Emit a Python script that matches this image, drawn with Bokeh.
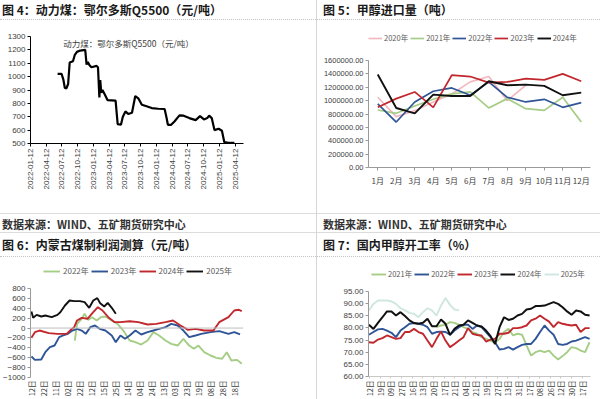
import math
import pandas as pd
from bokeh.plotting import figure
from bokeh.layouts import row, column
from bokeh.models import (Div, Label, Legend, LegendItem, FixedTicker, Span,
                          NumeralTickFormatter, DatetimeTickFormatter, Range1d)
from bokeh.embed import file_html
from bokeh.resources import INLINE

NAN = float("nan")

# ---------------- data: 图4 动力煤 鄂尔多斯Q5500 ----------------
coal_dates = ["2022-06-18", "2022-07-11", "2022-07-21", "2022-07-30", "2022-08-08", "2022-08-18",
              "2022-08-27", "2022-09-15", "2022-09-25", "2022-10-08", "2022-10-27", "2022-11-25",
              "2022-12-03", "2022-12-10", "2022-12-20", "2022-12-31", "2023-01-30", "2023-02-07",
              "2023-02-15", "2023-02-20", "2023-02-26", "2023-03-05", "2023-03-17", "2023-04-03",
              "2023-05-20", "2023-06-01", "2023-06-20", "2023-07-01", "2023-07-16", "2023-08-01",
              "2023-08-23", "2023-09-11", "2023-09-30", "2023-10-19", "2023-11-11", "2023-12-15",
              "2024-01-22", "2024-02-28", "2024-03-09", "2024-03-18", "2024-04-06", "2024-04-25",
              "2024-05-24", "2024-06-17", "2024-07-20", "2024-08-26", "2024-09-20", "2024-10-13",
              "2024-11-01", "2024-11-12", "2024-11-27", "2024-12-13", "2025-01-06", "2025-01-25",
              "2025-02-08", "2025-03-04", "2025-04-07"]
coal_price = [1020, 1020, 980, 915, 912, 945, 1105, 1115, 1160, 1185,
              1195, 1200, 1090, 1110, 1085, 1070, 1080, 1070, 845, 975,
              880, 900, 870, 825, 820, 645, 640, 700, 740, 720,
              730, 855, 835, 790, 780, 765, 760, 758, 700, 640,
              640, 665, 710, 708, 690, 675, 705, 680, 690, 708,
              690, 600, 610, 595, 510, 505, 505]
coal_ticks = ["2022-01-12", "2022-04-12", "2022-07-12", "2022-10-12", "2023-01-12", "2023-04-12",
              "2023-07-12", "2023-10-12", "2024-01-12", "2024-04-12", "2024-07-12", "2024-10-12",
              "2025-01-12", "2025-04-12"]
coal_yticks = [500, 600, 700, 800, 900, 1000, 1100, 1200, 1300]
coal_series_name = "动力煤：鄂尔多斯Q5500（元/吨）"

# ---------------- data: 图5 甲醇进口量 ----------------
months = ["1月", "2月", "3月", "4月", "5月", "6月", "7月", "8月", "9月", "10月", "11月", "12月"]
imp_2020 = [1050000, 760000, 850000, 980000, 1100000, 1280000, 1360000, 1000000, 1230000, NAN, NAN, NAN]
imp_2021 = [860000, 810000, 920000, 1020000, 1100000, 1130000, 890000, 1030000, 880000, 855000, 1050000, 680000]
imp_2022 = [950000, 680000, 980000, 1140000, 1190000, 1080000, 1280000, 1050000, 980000, 1020000, 900000, 970000]
imp_2023 = [900000, 1030000, 1130000, 900000, 1380000, 1360000, 1270000, 1280000, 1330000, 1310000, 1400000, 1290000]
imp_2024 = [1390000, 890000, 810000, 1090000, 1070000, 1070000, 1290000, 1230000, 1240000, 1220000, 1080000, 1120000]
imp_yticks = [0, 200000, 400000, 600000, 800000, 1000000, 1200000, 1400000, 1600000]

# ---------------- data: 图6 内蒙古煤制利润测算 (day of year) ----------------
pf22_x = [75, 79, 87, 92, 98, 105, 113, 120, 128, 139, 149, 159, 170, 180, 190, 201, 211, 221, 232, 242,
          253, 263, 273, 281, 289, 299, 310, 320, 330, 338, 346, 356, 364]
pf22_y = [-252, 85, 187, 288, 166, 220, 153, 220, 234, 153, 85, -50, -252, -285, -333, -252, -83, -150, -252, -319,
          -353, -218, -353, -420, -353, -488, -555, -602, -622, -488, -656, -643, -723]
pf23_x = [0, 6, 17, 24, 32, 40, 48, 55, 63, 71, 79, 87, 94, 102, 110, 118, 128, 139, 146, 154,
          162, 170, 180, 190, 201, 211, 221, 232, 242, 253, 263, 273, 284, 294, 310, 325, 341, 351, 361]
pf23_y = [-575, -643, -636, -488, -387, -353, -184, -150, -117, -50, -16, -50, -117, 18, 52, -16, -50, -150, -285, -150,
          -218, -150, -50, -130, -83, -50, -16, 18, 85, 52, -50, -184, -150, -117, -83, -63, -117, -83, -130]
pf24_x = [0, 6, 14, 30, 45, 61, 68, 74, 79, 87, 97, 107, 115, 123, 133, 144, 154, 170, 185, 201,
          216, 232, 245, 258, 271, 284, 299, 315, 325, 341, 351, 359, 364]
pf24_y = [-198, -83, -50, -103, -117, -117, -36, 18, 153, 207, 187, 321, 422, 355, 220, 119, 119, 139, 119, 72,
          85, 119, 153, 52, -36, -16, -50, -50, 119, 220, 355, 369, 342]
pf25_x = [0, 3, 9, 17, 24, 35, 45, 50, 58, 66, 74, 84, 92, 100, 107, 114, 119, 126, 132, 139, 146]
pf25_y = [335, 207, 267, 234, 254, 220, 267, 321, 456, 557, 544, 544, 524, 409, 557, 605, 503, 436, 510, 409, 288]
pf_yticks = [-1000, -800, -600, -400, -200, 0, 200, 400, 600, 800]
pf_xlabels = ["12日", "22日", "11日", "02日", "22日", "12日", "15日", "25日", "14日",
              "04日", "24日", "13日", "03日", "23日", "19日", "08日", "28日", "18日"]
pf_zero = 0

# ---------------- data: 图7 国内甲醇开工率 (weekly) ----------------
op_2021 = [NAN] * 15 + [80.3, 81.0, 81.3, 82.4, 82.1, 81.3, 80.3, 79.6, 78.3, 77.6,
                        76.2, 75.5, 74.8, 73.9, 75.5, 78.3, 79.6, 76.9, 77.6, 77.2,
                        72.8, 68.6, 70.0, 70.7, 70.0, 70.7, 68.6, 67.0, 68.4, 70.0,
                        72.1, 71.7, 70.7, 70.0, 74.1]
op_2022 = [77.2, 78.3, 79.4, 79.6, 78.9, 78.0, 76.2, 78.9, 80.3, 81.7,
           82.0, 81.7, 81.3, 80.3, 77.6, 78.3, 78.5, 78.3, 77.2, 78.9,
           80.3, 81.3, 81.3, 79.6, 81.0, 80.3, 78.3, 76.2, 74.1, 71.1,
           71.4, 72.1, 71.1, 72.1, 73.0, 73.4, 73.4, 75.5, 78.3, 81.0,
           78.9, 77.2, 73.4, 73.0, 73.4, 74.4, 74.8, 75.5, 76.2, 75.5]
op_2023 = [74.1, 73.9, 75.2, 75.8, 76.9, 76.2, 75.5, 75.8, 78.3, 78.3,
           79.6, 78.3, 77.6, 74.8, 72.1, 75.5, 78.5, 74.8, 72.1, 73.4,
           74.8, 76.2, 79.9, 77.6, 77.1, 76.9, 74.4, 75.2, 75.5, 77.6,
           77.6, 78.0, 79.9, 79.9, 80.3, 81.0, 83.1, 83.8, 85.1, 83.8,
           82.6, 80.3, 82.4, 81.7, 81.3, 81.0, 81.3, 78.3, 79.9, 79.9]
op_2024 = [81.3, 79.6, 82.1, 84.4, 86.8, 86.8, 85.1, 86.5, 84.9, 83.1,
           82.0, 81.7, 82.1, 83.8, 80.7, 80.7, 83.5, 81.7, 77.1, 79.6,
           81.0, 81.3, 83.1, 82.1, 81.0, 80.6, 78.9, 76.6, 73.4, 80.3,
           84.4, 83.3, 83.8, 85.1, 85.8, 87.6, 87.9, 89.0, 89.0, 89.2,
           89.9, 90.6, 89.9, 88.5, 86.8, 85.4, 87.2, 86.8, 85.4, 85.1]
op_2025 = [87.2, 89.9, 91.3, 91.3, 91.3, 90.9, 89.9, 88.1, 87.2, 86.2,
           85.8, 84.4, 86.5, 88.1, 87.2, 85.1, 89.2, 92.3, 89.5, 87.6,
           87.2] + [NAN] * 29
op_yticks = [60, 65, 70, 75, 80, 85, 90, 95]
op_xlabels = ["12日", "19日", "09日", "27日", "16日", "13日", "20日", "17日", "21日", "04日", "21日",
              "19日", "27日", "13日", "31日", "17日", "08日", "26日", "12日", "30日", "17日"]

titles = ["图 4：动力煤：鄂尔多斯Q5500（元/吨）", "图 5：甲醇进口量（吨）",
          "图 6：内蒙古煤制利润测算（元/吨）", "图 7：国内甲醇开工率（%）"]
source_text = "数据来源：WIND、五矿期货研究中心"

# ---------------- styling ----------------
CJK = "Noto Sans CJK SC"
LAT = "Liberation Sans"
C_GREEN = "#a5cd86"
C_BLUE = "#2f5597"
C_RED = "#c1272d"
C_BLACK = "#111111"
C_PINK = "#f3b9c1"
C_CYAN = "#cfe7e1"
AX_GREY = "#9a9a9a"

W_L, W_R = 316, 283
H_T1, H_C1, H_S, H_T2, H_C2 = 20, 193, 20, 24, 142


def base_fig(w, h, l, r, t, b, **kw):
    p = figure(width=w, height=h, min_border_left=l, min_border_right=r,
               min_border_top=t, min_border_bottom=b, output_backend="svg",
               toolbar_location=None, title=None, **kw)
    p.grid.visible = False
    p.outline_line_color = None
    p.background_fill_color = "white"
    p.border_fill_color = "white"
    return p


def headroom_range(lo, hi, frame_px, extra_px):
    # value range for a frame that is extended upward by extra_px (room for the legend)
    return Range1d(lo, hi + (hi - lo) * extra_px / frame_px)


def style_axis(ax, color, font=LAT, size="7.5px", standoff=2, tick_out=3):
    ax.axis_line_color = color
    ax.major_tick_line_color = color
    ax.minor_tick_line_color = None
    ax.major_tick_in = 0
    ax.major_tick_out = tick_out
    ax.major_label_text_font_size = size
    ax.major_label_text_color = "#404040"
    ax.major_label_text_font = font
    ax.major_label_standoff = standoff


def add_legend(p, items, loc, spacing, glyph_w, font_size="7.5px", standoff=2):
    lg = Legend(items=[LegendItem(label=n, renderers=[r]) for n, r in items],
                location=loc, orientation="horizontal", padding=0, margin=0,
                spacing=spacing, glyph_width=glyph_w, glyph_height=8, label_height=8,
                label_standoff=standoff, label_text_font_size=font_size, label_text_font=CJK,
                label_text_color="#595959", border_line_color=None,
                background_fill_alpha=0, label_text_baseline="middle")
    p.add_layout(lg)


# ---- 图4 ----
c_dates = pd.to_datetime(coal_dates)
c_ticks = [pd.Timestamp(t).value / 1e6 for t in coal_ticks]
x4_start = c_ticks[0]
x4_end = (pd.Timestamp(coal_ticks[0]) + pd.Timedelta(days=1234)).value / 1e6
p4 = base_fig(W_L, H_C1, 27, 73, 16, 70, x_axis_type="datetime",
              x_range=Range1d(x4_start, x4_end), y_range=Range1d(coal_yticks[0], coal_yticks[-1]))
p4.line(c_dates, coal_price, line_color="black", line_width=2.2)
p4.xaxis.ticker = FixedTicker(ticks=c_ticks)
fmt = "%Y-%m-%d"
p4.xaxis.formatter = DatetimeTickFormatter(milliseconds=fmt, seconds=fmt, minsec=fmt, minutes=fmt,
                                           hourmin=fmt, hours=fmt, days=fmt, months=fmt, years=fmt,
                                           strip_leading_zeros=False)
p4.xaxis.major_label_orientation = math.pi / 2
p4.yaxis.ticker = FixedTicker(ticks=coal_yticks)
for ax in p4.axis:
    style_axis(ax, "black", size="8px")
p4.add_layout(Label(x=pd.Timestamp("2022-07-21").value / 1e6, y=1248, text=coal_series_name,
                    text_font=CJK, text_font_size="8.5px", text_color="#404040",
                    text_baseline="middle"))

# ---- 图5 ----
mx = list(range(1, 13))
p5 = base_fig(W_R, H_C1, 51, 10, 8, 46, x_range=Range1d(0.5, 12.5),
              y_range=headroom_range(imp_yticks[0], imp_yticks[-1], 107, 32))
r20 = p5.line(mx, imp_2020, line_color=C_PINK, line_width=1.7)
r21 = p5.line(mx, imp_2021, line_color=C_GREEN, line_width=1.7)
r22 = p5.line(mx, imp_2022, line_color=C_BLUE, line_width=1.7)
r23 = p5.line(mx, imp_2023, line_color=C_RED, line_width=1.7)
r24 = p5.line(mx, imp_2024, line_color=C_BLACK, line_width=1.9)
p5.xaxis.ticker = FixedTicker(ticks=mx)
p5.xaxis.major_label_overrides = {i + 1: m for i, m in enumerate(months)}
p5.yaxis.ticker = FixedTicker(ticks=imp_yticks)
p5.yaxis.formatter = NumeralTickFormatter(format="0.00")
p5.yaxis.bounds = (imp_yticks[0], imp_yticks[-1])
style_axis(p5.xaxis[0], AX_GREY, font=CJK, size="8px", standoff=4)
style_axis(p5.yaxis[0], AX_GREY, size="7.5px")
add_legend(p5, [("2020年", r20), ("2021年", r21), ("2022年", r22), ("2023年", r23), ("2024年", r24)],
           (0, 124), 2, 14)

# ---- 图6 ----
p6 = base_fig(W_L, H_C2, 30, 49, 6, 22, x_range=Range1d(-1.6, 367),
              y_range=headroom_range(pf_yticks[0], pf_yticks[-1], 89, 25))
p6.add_layout(Span(location=pf_zero, dimension="width", line_color="#bdbdbd", line_width=1))
g22 = p6.line(pf22_x, pf22_y, line_color=C_GREEN, line_width=1.9)
g23 = p6.line(pf23_x, pf23_y, line_color=C_BLUE, line_width=1.9)
g24 = p6.line(pf24_x, pf24_y, line_color=C_RED, line_width=1.9)
g25 = p6.line(pf25_x, pf25_y, line_color=C_BLACK, line_width=1.9)
pf_ticks = [20.7 * i for i in range(len(pf_xlabels))]
p6.xaxis.ticker = FixedTicker(ticks=pf_ticks)
p6.xaxis.major_label_overrides = {t: s for t, s in zip(pf_ticks, pf_xlabels)}
p6.xaxis.major_label_orientation = math.pi / 2
p6.yaxis.ticker = FixedTicker(ticks=pf_yticks)
p6.yaxis.bounds = (pf_yticks[0], pf_yticks[-1])
style_axis(p6.xaxis[0], AX_GREY, font=CJK, size="7.5px", standoff=3, tick_out=0)
p6.xaxis.axis_line_color = None
style_axis(p6.yaxis[0], AX_GREY, size="8px")
add_legend(p6, [("2022年", g22), ("2023年", g23), ("2024年", g24), ("2025年", g25)],
           (13, 101), 2, 17, font_size="8px", standoff=3)

# ---- 图7 ----
wx = list(range(len(op_2024)))
p7 = base_fig(W_R, H_C2, 33, 5, 9, 23, x_range=Range1d(-0.1, 49.2),
              y_range=headroom_range(op_yticks[0], op_yticks[-1], 85, 25))
k21 = p7.line(wx, op_2021, line_color=C_GREEN, line_width=1.9)
k22 = p7.line(wx, op_2022, line_color=C_BLUE, line_width=1.9)
k23 = p7.line(wx, op_2023, line_color=C_RED, line_width=1.9)
k24 = p7.line(wx, op_2024, line_color=C_BLACK, line_width=2.0)
k25 = p7.line(wx, op_2025, line_color=C_CYAN, line_width=1.9)
op_ticks = [0.15 + 2.36 * i for i in range(len(op_xlabels))]
p7.xaxis.ticker = FixedTicker(ticks=op_ticks)
p7.xaxis.major_label_overrides = {t: s for t, s in zip(op_ticks, op_xlabels)}
p7.xaxis.major_label_orientation = math.pi / 2
p7.yaxis.ticker = FixedTicker(ticks=op_yticks)
p7.yaxis.formatter = NumeralTickFormatter(format="0.00")
p7.yaxis.bounds = (op_yticks[0], op_yticks[-1])
style_axis(p7.xaxis[0], "#c8c8c8", font=CJK, size="7.5px", standoff=2, tick_out=2)
style_axis(p7.yaxis[0], AX_GREY, size="8px")
add_legend(p7, [("2021年", k21), ("2022年", k22), ("2023年", k23), ("2024年", k24), ("2025年", k25)],
           (3, 97), 2, 15)


# ---------------- page chrome ----------------
def text_div(text, w, h, size, pad, borders, color="#1a1a1a"):
    st = {"font-family": "'Noto Sans CJK SC', sans-serif", "font-size": f"{size}px",
          "font-weight": "bold", "color": color, "line-height": f"{h}px",
          "padding-left": f"{pad}px", "white-space": "nowrap", "box-sizing": "border-box",
          "overflow": "hidden", "background-color": "white"}
    st.update(borders)
    return Div(text=text, width=w, height=h, margin=(0, 0, 0, 0), styles=st)


dotted = {"border-bottom": "1px dotted #c4c4c4"}
solid = {"border-top": "1px solid #dcdcdc", "border-bottom": "1px solid #dcdcdc"}

left = column(
    text_div(titles[0], W_L, H_T1, 12, 2, dotted),
    p4,
    text_div(source_text, W_L, H_S, 11, 2, solid, color="#333333"),
    text_div(titles[2], W_L, H_T2, 12, 2, dotted),
    p6,
    spacing=0,
)
right = column(
    text_div(titles[1], W_R, H_T1, 12, 6, dotted),
    p5,
    text_div(source_text, W_R, H_S, 11, 6, solid, color="#333333"),
    text_div(titles[3], W_R, H_T2, 12, 6, dotted),
    p7,
    spacing=0,
)
sep = Div(text="", width=1, height=H_T1 + H_C1 + H_S + H_T2 + H_C2, margin=(0, 0, 0, 0),
          styles={"background-color": "#d6d6d6"})
page = row(left, sep, right, spacing=0)

open("out.html", "w").write(file_html(page, INLINE))
